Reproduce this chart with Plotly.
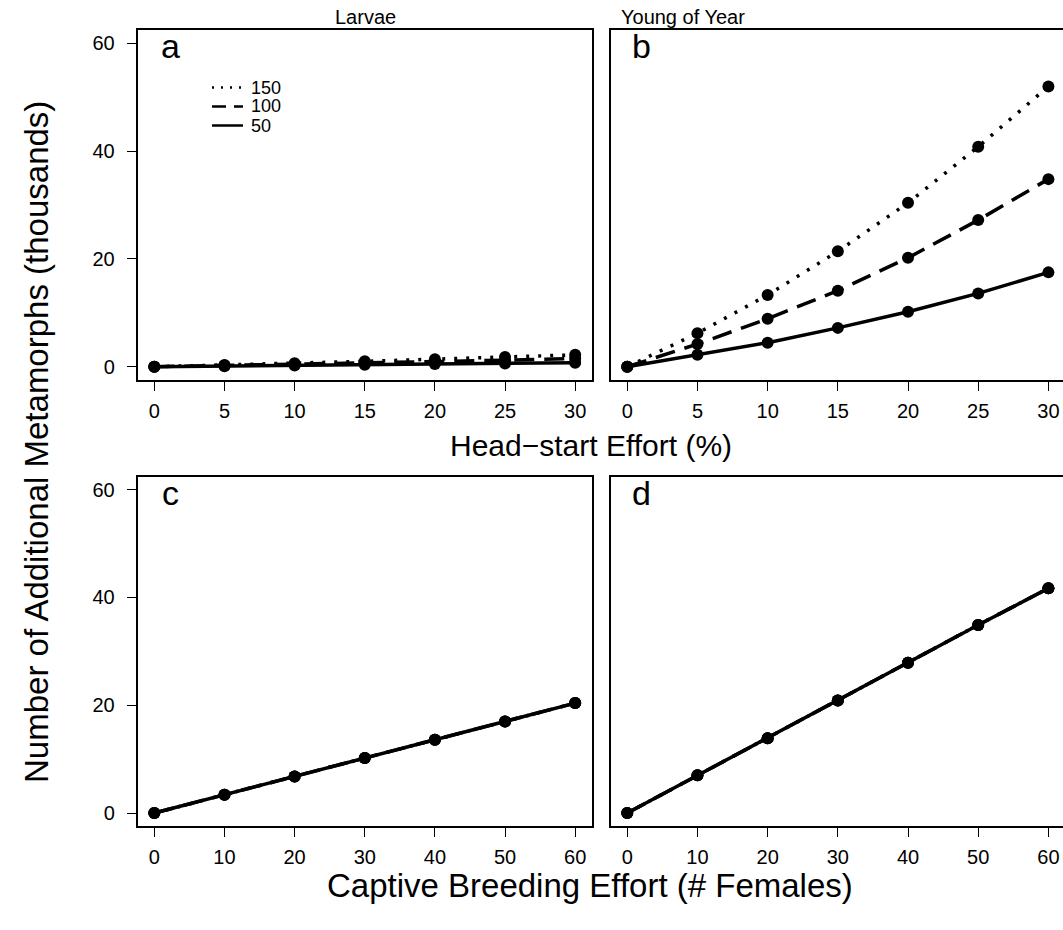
import plotly.graph_objects as go

# ---------------- data ----------------
effort_pct = [0, 5, 10, 15, 20, 25, 30]
females = [0, 10, 20, 30, 40, 50, 60]

scenarios = ["150", "100", "50"]

larvae_hs_150 = [0, 0.3, 0.65, 1.0, 1.4, 1.8, 2.2]
larvae_hs_100 = [0, 0.2, 0.45, 0.7, 0.95, 1.2, 1.5]
larvae_hs_50 = [0, 0.1, 0.22, 0.35, 0.48, 0.6, 0.75]

yoy_hs_150 = [0, 6.2, 13.3, 21.4, 30.4, 40.8, 52.0]
yoy_hs_100 = [0, 4.2, 8.9, 14.1, 20.2, 27.2, 34.8]
yoy_hs_50 = [0, 2.2, 4.45, 7.2, 10.2, 13.6, 17.5]

larvae_cb_150 = [0, 3.4, 6.8, 10.2, 13.6, 17.0, 20.4]
larvae_cb_100 = [0, 3.4, 6.8, 10.2, 13.6, 17.0, 20.4]
larvae_cb_50 = [0, 3.4, 6.8, 10.2, 13.6, 17.0, 20.4]

yoy_cb_150 = [0, 7.0, 13.9, 20.9, 27.9, 34.9, 41.7]
yoy_cb_100 = [0, 7.0, 13.9, 20.9, 27.9, 34.9, 41.7]
yoy_cb_50 = [0, 7.0, 13.9, 20.9, 27.9, 34.9, 41.7]

hs_ticks = [0, 5, 10, 15, 20, 25, 30]
cb_ticks = [0, 10, 20, 30, 40, 50, 60]
y_ticks = [0, 20, 40, 60]

# ---------------- styling ----------------
W, H = 1063, 930
FONT = "Liberation Sans, Arial, Helvetica, sans-serif"
dash_styles = {"150": "3px,9px", "100": "20px,10px", "50": "solid"}


def px_x(p):
    return p / W


def px_y(p):
    return 1 - p / H


fig = go.Figure()

panels = [
    ("", "", effort_pct, {"150": larvae_hs_150, "100": larvae_hs_100, "50": larvae_hs_50}),
    ("2", "2", effort_pct, {"150": yoy_hs_150, "100": yoy_hs_100, "50": yoy_hs_50}),
    ("3", "3", females, {"150": larvae_cb_150, "100": larvae_cb_100, "50": larvae_cb_50}),
    ("4", "4", females, {"150": yoy_cb_150, "100": yoy_cb_100, "50": yoy_cb_50}),
]

for xs, ys, xvals, series in panels:
    for s in scenarios:
        fig.add_trace(go.Scatter(
            x=xvals, y=series[s], mode="lines+markers",
            xaxis="x" + xs, yaxis="y" + ys,
            line=dict(color="black", width=3.5, dash=dash_styles[s]),
            marker=dict(color="black", size=12, line=dict(width=0)),
            showlegend=False, name=s,
        ))

# domains (pixel based)
top_y = [px_y(380), px_y(30)]
bot_y = [px_y(826), px_y(476.7)]
left_x = [px_x(137.5), px_x(592)]
right_x = [px_x(610.7), 1.0]

common_x = dict(showline=True, linecolor="black", linewidth=1.5, mirror=True,
                ticks="outside", ticklen=9, tickwidth=1.3, tickcolor="black",
                showgrid=False, zeroline=False, ticklabelstandoff=3,
                tickfont=dict(family=FONT, size=20, color="black"))
common_y = dict(showline=True, linecolor="black", linewidth=1.5,
                showgrid=False, zeroline=False,
                tickfont=dict(family=FONT, size=20, color="black"))

fig.update_layout(
    width=W, height=H,
    margin=dict(l=0, r=0, t=0, b=0),
    plot_bgcolor="white", paper_bgcolor="white",
    xaxis=dict(domain=left_x, anchor="y", range=[-1.2, 31.2], tickvals=hs_ticks, **common_x),
    xaxis2=dict(domain=right_x, anchor="y2", range=[-1.18, 31.04], tickvals=hs_ticks, **common_x),
    xaxis3=dict(domain=left_x, anchor="y3", range=[-2.4, 62.4], tickvals=cb_ticks, **common_x),
    xaxis4=dict(domain=right_x, anchor="y4", range=[-2.36, 62.08], tickvals=cb_ticks, **common_x),
    yaxis=dict(domain=top_y, anchor="x", range=[-2.47, 62.47], tickvals=y_ticks, mirror=True,
               ticks="outside", ticklen=9, tickwidth=1.3, tickcolor="black", ticklabelstandoff=8, **common_y),
    yaxis2=dict(domain=top_y, anchor="x2", range=[-2.47, 62.47], showticklabels=False, ticks="",
                mirror=False, **common_y),
    yaxis3=dict(domain=bot_y, anchor="x3", range=[-2.4, 62.4], tickvals=y_ticks, mirror=True,
                ticks="outside", ticklen=9, tickwidth=1.3, tickcolor="black", ticklabelstandoff=8, **common_y),
    yaxis4=dict(domain=bot_y, anchor="x4", range=[-2.4, 62.4], showticklabels=False, ticks="",
                mirror=False, **common_y),
)

annotations = []


def add_text(text, x, y, size, xanchor="center", yanchor="middle", angle=0):
    annotations.append(dict(text=text, x=px_x(x), y=px_y(y), xref="paper", yref="paper",
                            xanchor=xanchor, yanchor=yanchor, showarrow=False, textangle=angle,
                            font=dict(family=FONT, size=size, color="black")))


add_text("Larvae", 365, 17, 20)
add_text("Young of Year", 683, 17, 20)
add_text("a", 170, 46, 34)
add_text("b", 641, 46, 34)
add_text("c", 170, 493, 34)
add_text("d", 641, 493, 34)
add_text("Head\u2212start Effort (%)", 591, 446, 30)
add_text("Captive Breeding Effort (# Females)", 590, 885, 33)
add_text("Number of Additional Metamorphs (thousands)", 36, 442, 33, angle=-90)

# legend in panel a
legend_rows = [("150", 87.5), ("100", 106.5), ("50", 125.5)]
shapes = []
for s, yy in legend_rows:
    shapes.append(dict(type="line", xref="paper", yref="paper",
                       x0=px_x(212), x1=px_x(243), y0=px_y(yy), y1=px_y(yy),
                       line=dict(color="black", width=2.5,
                                 dash={"150": "2px,7px", "100": "14px,8px", "50": "solid"}[s])))
    add_text(s, 249, yy, 18, xanchor="left")

fig.update_layout(annotations=annotations, shapes=shapes)

fig.write_html("out.html")
